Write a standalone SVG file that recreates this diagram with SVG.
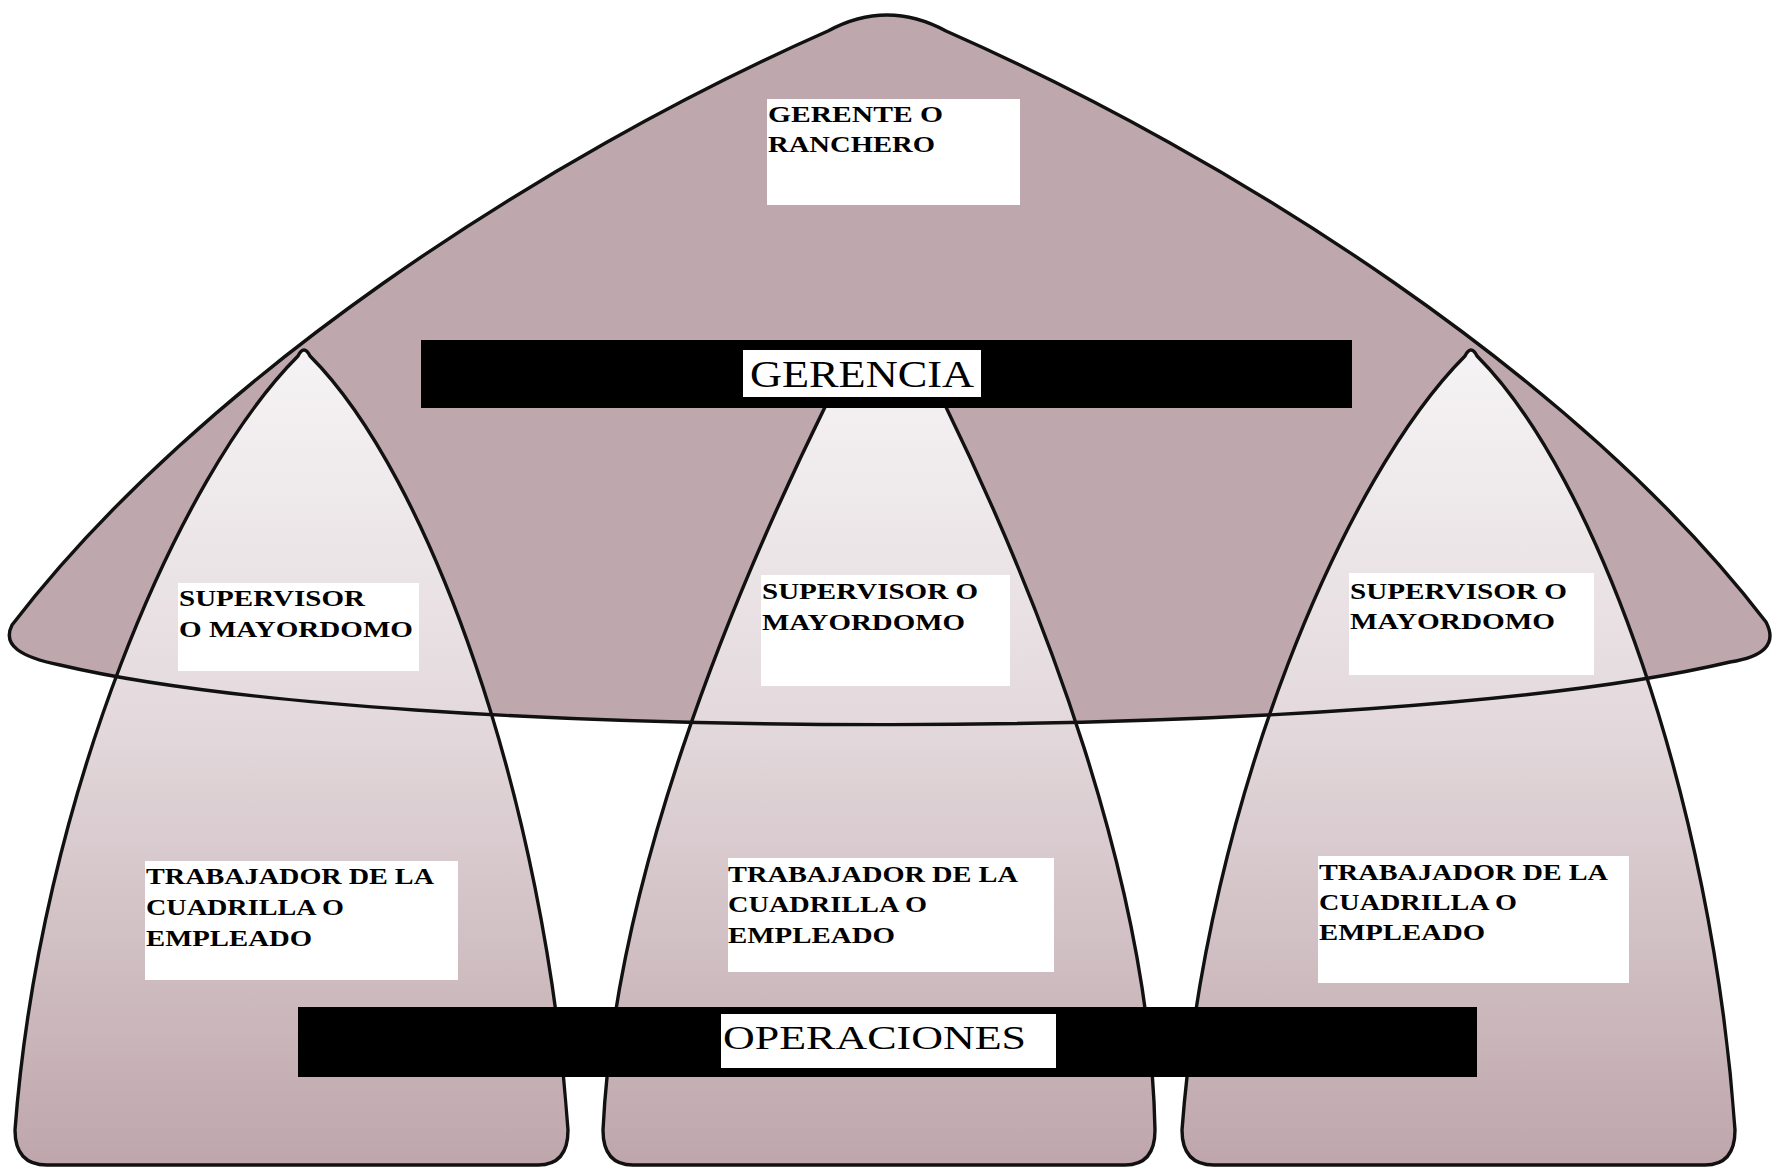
<svg xmlns="http://www.w3.org/2000/svg" width="1775" height="1167" viewBox="0 0 1775 1167">
  <defs>
    <linearGradient id="archGrad" gradientUnits="userSpaceOnUse" x1="0" y1="340" x2="0" y2="1165">
      <stop offset="0" stop-color="#f6f4f6"/>
      <stop offset="0.45" stop-color="#e4dadd"/>
      <stop offset="1" stop-color="#bea6ac"/>
    </linearGradient>
    <path id="domeShape" d="M 828,31 Q 887,-1 946,31 C 1234,158 1578,377 1766,622 C 1778,645 1762,657 1730,662 C 1380,745 400,745 60,665 C 20,657 2,645 12,625 C 200,380 540,158 828,31 Z"/>
    <path id="archL" d="M 15,1130 C 40,800 178,476 298,356 Q 304,344 310,356 C 430,476 545,800 568,1130 Q 568,1165 538,1165 L 47,1165 Q 15,1165 15,1130 Z"/>
    <path id="archM" d="M 603,1130 C 615,880 730,600 826,405 Q 885,330 945,405 C 1040,600 1150,880 1155,1130 Q 1155,1165 1125,1165 L 633,1165 Q 603,1165 603,1130 Z"/>
    <path id="archR" d="M 1182,1130 C 1207,800 1345,476 1465,356 Q 1471,344 1477,356 C 1597,476 1712,800 1735,1130 Q 1735,1165 1705,1165 L 1214,1165 Q 1182,1165 1182,1130 Z"/>
    <style>
      .line { fill: none; stroke: #111; stroke-width: 3.4; stroke-linejoin: round; }
      .archfill { fill: url(#archGrad); stroke: none; }
      .box { fill: #ffffff; }
      .bar { fill: #000000; }
      .lbl { font-family: "Liberation Serif", "Times New Roman", serif; font-weight: bold; font-size: 24px; fill: #000; }
      .big { font-family: "Liberation Serif", "Times New Roman", serif; font-weight: normal; fill: #000; }
    </style>
  </defs>
  <rect x="0" y="0" width="1775" height="1167" fill="#ffffff"/>

  <g id="dome">
    <use href="#domeShape" fill="#bfa8ad" stroke="none"/>
  </g>

  <g id="arch-left">
    <use href="#archL" class="archfill"/>
  </g>
  <g id="arch-middle">
    <use href="#archM" class="archfill"/>
  </g>
  <g id="arch-right">
    <use href="#archR" class="archfill"/>
  </g>

  <g id="outlines">
    <use href="#archL" class="line"/>
    <use href="#archM" class="line"/>
    <use href="#archR" class="line"/>
    <use href="#domeShape" class="line"/>
  </g>

  <g id="gerencia">
    <rect class="bar" x="421" y="340" width="931" height="68"/>
    <rect class="box" x="743" y="350" width="238" height="47"/>
    <text class="big" x="750" y="387" font-size="37" textLength="224" lengthAdjust="spacingAndGlyphs">GERENCIA</text>
  </g>
  <g id="operaciones">
    <rect class="bar" x="298" y="1007" width="1179" height="70"/>
    <rect class="box" x="721" y="1014" width="335" height="54"/>
    <text class="big" x="723" y="1049" font-size="34" textLength="303" lengthAdjust="spacingAndGlyphs">OPERACIONES</text>
  </g>

  <g id="gerente">
    <rect class="box" x="767" y="99" width="253" height="106"/>
    <text class="lbl" x="768" y="122" textLength="175" lengthAdjust="spacingAndGlyphs">GERENTE O</text>
    <text class="lbl" x="768" y="152" textLength="167" lengthAdjust="spacingAndGlyphs">RANCHERO</text>
  </g>
  <g id="supervisor-left">
    <rect class="box" x="178" y="583" width="241" height="88"/>
    <text class="lbl" x="179" y="606" textLength="186" lengthAdjust="spacingAndGlyphs">SUPERVISOR</text>
    <text class="lbl" x="179" y="637" textLength="234" lengthAdjust="spacingAndGlyphs">O MAYORDOMO</text>
  </g>
  <g id="supervisor-middle">
    <rect class="box" x="761" y="575" width="249" height="111"/>
    <text class="lbl" x="762" y="599" textLength="216" lengthAdjust="spacingAndGlyphs">SUPERVISOR O</text>
    <text class="lbl" x="762" y="630" textLength="203" lengthAdjust="spacingAndGlyphs">MAYORDOMO</text>
  </g>
  <g id="supervisor-right">
    <rect class="box" x="1349" y="573" width="245" height="102"/>
    <text class="lbl" x="1350" y="599" textLength="217" lengthAdjust="spacingAndGlyphs">SUPERVISOR O</text>
    <text class="lbl" x="1350" y="629" textLength="205" lengthAdjust="spacingAndGlyphs">MAYORDOMO</text>
  </g>
  <g id="trabajador-left">
    <rect class="box" x="145" y="861" width="313" height="119"/>
    <text class="lbl" x="146" y="884" textLength="288" lengthAdjust="spacingAndGlyphs">TRABAJADOR DE LA</text>
    <text class="lbl" x="146" y="915" textLength="198" lengthAdjust="spacingAndGlyphs">CUADRILLA O</text>
    <text class="lbl" x="146" y="946" textLength="166" lengthAdjust="spacingAndGlyphs">EMPLEADO</text>
  </g>
  <g id="trabajador-middle">
    <rect class="box" x="728" y="858" width="326" height="114"/>
    <text class="lbl" x="728" y="882" textLength="290" lengthAdjust="spacingAndGlyphs">TRABAJADOR DE LA</text>
    <text class="lbl" x="728" y="912" textLength="199" lengthAdjust="spacingAndGlyphs">CUADRILLA O</text>
    <text class="lbl" x="728" y="943" textLength="167" lengthAdjust="spacingAndGlyphs">EMPLEADO</text>
  </g>
  <g id="trabajador-right">
    <rect class="box" x="1318" y="856" width="311" height="127"/>
    <text class="lbl" x="1319" y="880" textLength="289" lengthAdjust="spacingAndGlyphs">TRABAJADOR DE LA</text>
    <text class="lbl" x="1319" y="910" textLength="198" lengthAdjust="spacingAndGlyphs">CUADRILLA O</text>
    <text class="lbl" x="1319" y="940" textLength="166" lengthAdjust="spacingAndGlyphs">EMPLEADO</text>
  </g>
</svg>
